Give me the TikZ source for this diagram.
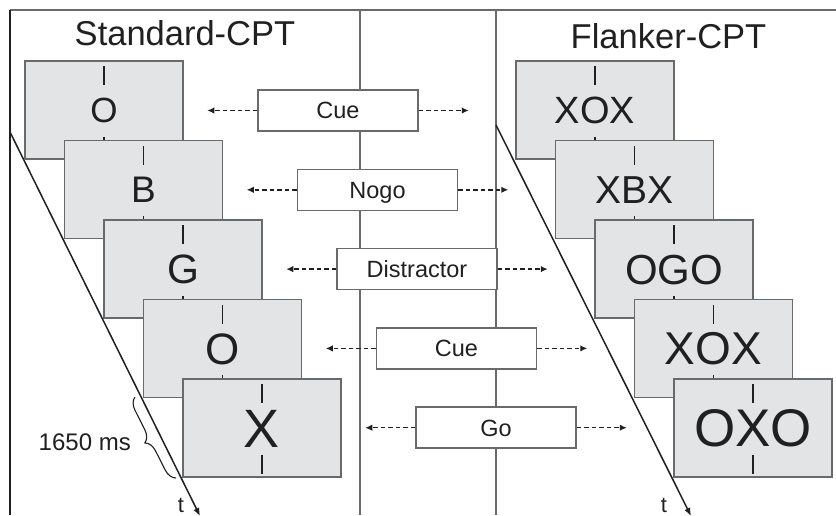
\documentclass[tikz,border=0pt]{standalone}
\usepackage{fontspec}
\setmainfont{Liberation Sans}
\usetikzlibrary{arrows.meta,calc,decorations.pathreplacing}
\definecolor{framegray}{HTML}{6A6A6A}
\definecolor{boxfill}{HTML}{E3E4E6}
\definecolor{inkdark}{HTML}{202020}
\begin{document}
\begin{tikzpicture}[x=1pt,y=-1pt,
  stimbox/.style={draw=framegray, line width=1.5pt, fill=boxfill, minimum width=158pt, minimum height=98pt, inner sep=0pt, text depth=0pt, text=inkdark},
  tickmark/.style={draw=inkdark, line width=1.5pt},
  labbox/.style={draw=framegray, line width=1.5pt, fill=white, minimum width=160pt, minimum height=41pt, inner sep=0pt, font=\fontsize{23.5}{23.5}\selectfont, text height=16.8pt, text depth=0pt, text=inkdark},
  dasharrow/.style={draw=inkdark, line width=1.4pt, dash pattern=on 4.5pt off 3pt, -{Latex[length=7pt,width=6.5pt]}},
  timeline/.style={draw=inkdark, line width=1.5pt, -{Latex[length=8pt,width=6.5pt]}},
  titletext/.style={anchor=base, inner sep=0pt, font=\fontsize{34.5}{34.5}\selectfont, text=inkdark},
  tlabel/.style={inner sep=0pt, font=\fontsize{22}{22}\selectfont, text=inkdark},
  bracestyle/.style={decorate, decoration={brace, amplitude=12pt}, draw=inkdark, line width=1.1pt}
]
\useasboundingbox (0,0) rectangle (836,515);
\fill[white] (0,0) rectangle (836,515);

% frame and separators
\draw[draw=framegray, line width=1.6pt] (10,10) -- (836,10);
\draw[draw=inkdark, line width=1.6pt] (10,10) -- (10,515);
\draw[draw=framegray, line width=1.4pt] (360,10) -- (360,515);
\draw[draw=framegray, line width=1.4pt] (496,10) -- (496,515);

% time axes
\coordinate (LS) at (10,132);
\coordinate (LE) at (200,516);
\draw[timeline] (LS) -- (LE);
\coordinate (RS) at (496,125);
\coordinate (RE) at (691,516);
\draw[timeline] (RS) -- (RE);

% brace
\coordinate (B1) at (176,478);
\coordinate (B2) at (135,397);
\draw[bracestyle] (B1) -- (B2);
\node[anchor=base east, inner sep=0pt, font=\fontsize{24}{24}\selectfont, text=inkdark] (ms) at (131,450.5) {1650 ms};

% left stimuli
\foreach \i/\lt/\fs/\ch in {1/O/35/25pt,2/B/37/26.5pt,3/G/41/29.4pt,4/O/44/31.5pt,5/X/54/38.7pt}{
  \node[stimbox, font=\fontsize{\fs}{\fs}\selectfont, text height=\ch] (L\i) at ({104+39.5*(\i-1)},{110+79.5*(\i-1)}) {\lt};
  \draw[tickmark] ($(L\i.north)+(0,6)$) -- ($(L\i.north)+(0,25)$);
  \draw[tickmark] ($(L\i.south)+(0,-23)$) -- ($(L\i.south)+(0,-4)$);
}

% right stimuli
\foreach \i/\lt/\fs/\ch in {1/XOX/38/27.2pt,2/XBX/39/27.9pt,3/OGO/42/30.1pt,4/XOX/46/32.9pt,5/OXO/53/37.9pt}{
  \node[stimbox, font=\fontsize{\fs}{\fs}\selectfont, text height=\ch] (R\i) at ({595+39.5*(\i-1)},{110+79.5*(\i-1)}) {\lt};
  \draw[tickmark] ($(R\i.north)+(0,6)$) -- ($(R\i.north)+(0,25)$);
  \draw[tickmark] ($(R\i.south)+(0,-23)$) -- ($(R\i.south)+(0,-4)$);
}

% condition labels with arrows
\foreach \i/\txt in {1/Cue,2/Nogo,3/Distractor,4/Cue,5/Go}{
  \node[labbox] (C\i) at ({338+39.5*(\i-1)},{110.5+79.3*(\i-1)}) {\txt};
  \coordinate (CL\i) at ($(C\i.west)+(-50,0)$);
  \coordinate (CR\i) at ($(C\i.east)+(50,0)$);
  \draw[dasharrow] (C\i.west) -- (CL\i);
  \draw[dasharrow] (C\i.east) -- (CR\i);
}

% titles and axis labels
\node[titletext] (ts) at (185,45) {Standard-CPT};
\node[titletext] (tf) at (668.5,48) {Flanker-CPT};
\node[tlabel] (t1) at (181,505) {t};
\node[tlabel] (t2) at (664,505) {t};
\end{tikzpicture}
\end{document}
